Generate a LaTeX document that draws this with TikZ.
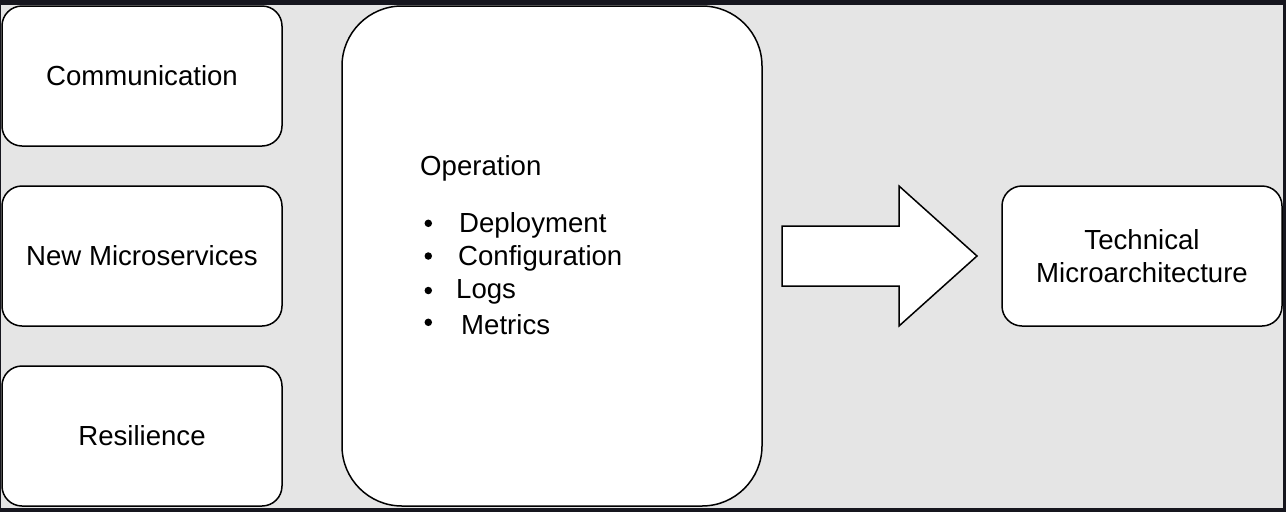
\documentclass[tikz,border=0pt]{standalone}
\usepackage{fontspec}
\setmainfont{Liberation Sans}
\definecolor{bgray}{HTML}{E5E5E5}
\definecolor{frame}{HTML}{16161E}
\begin{document}
\begin{tikzpicture}[x=1pt,y=-1pt,
  box/.style={draw=black,fill=white,line width=1.5pt,rounded corners=20pt,
    minimum width=280pt,minimum height=140pt,inner sep=0pt,align=center,
    font=\fontsize{27.6}{33.5}\selectfont},
  txt/.style={inner sep=0pt,font=\fontsize{27.6}{33.5}\selectfont},
  bul/.style={circle,fill=black,inner sep=0pt,minimum size=7.5pt}]
\useasboundingbox (0,0) rectangle (1286,512);
\fill[frame] (0,0) rectangle (1286,512);
\fill[bgray] (1,5) rectangle (1283,508);
\node[box] (comm) at (142,76) {Communication};
\node[box] (newms) at (142,256) {New Microservices};
\node[box] (resil) at (142,436) {Resilience};
\node[box,rounded corners=60pt,minimum width=420pt,minimum height=500pt] (oper) at (552,256) {};
\node[txt,anchor=west] (optitle) at (420,168) {Operation};
\node[bul] (b1) at (428.3,223.3) {};
\node[bul] (b2) at (428.3,256) {};
\node[bul] (b3) at (428.3,290.5) {};
\node[bul] (b4) at (428.3,322.3) {};
\node[txt,anchor=west] (l1) at (459,225) {Deployment};
\node[txt,anchor=west] (l2) at (458,258) {Configuration};
\node[txt,anchor=west] (l3) at (456,292) {Logs};
\node[txt,anchor=west] (l4) at (461,325) {Metrics};
\draw[line width=1.5pt,fill=white,line join=miter] (782,226) -- (899,226) -- (899,186) -- (977,256) -- (899,326) -- (899,286) -- (782,286) -- cycle;
\node[box] (tech) at (1142,256) {Technical\\Microarchitecture};
\end{tikzpicture}
\end{document}
